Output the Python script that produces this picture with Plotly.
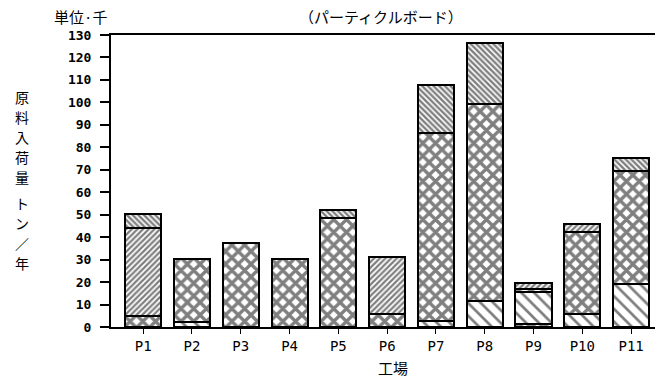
import plotly.graph_objects as go

categories = ["P1", "P2", "P3", "P4", "P5", "P6", "P7", "P8", "P9", "P10", "P11"]
base_p9 = [None, None, None, None, None, None, None, None, 1.3, None, None]
seg_a = [None, 2.4, None, None, None, None, 2.7, 11.7, 14.3, 5.6, 19.0]
seg_b = [4.9, 27.7, 37.3, 30.4, 48.4, 5.8, 83.5, 87.5, 1.3, 36.8, 50.6]
seg_c = [39.1, None, None, None, None, 25.4, None, None, 2.7, 3.5, None]
seg_d = [6.3, None, None, None, 3.7, None, 21.5, 27.1, None, None, 5.8]
y_ticks = list(range(0, 131, 10))
y_title_chars = ["原", "料", "入", "荷", "量", "ト", "ン", "／", "年"]

def bar(vals, shape, size, solidity):
    return go.Bar(
        x=categories, y=vals,
        marker=dict(color="white",
                    line=dict(color="black", width=2),
                    pattern=dict(shape=shape, size=size, solidity=solidity,
                                 fgcolor="black", bgcolor="white")),
        showlegend=False, hoverinfo="skip")

fig = go.Figure()
fig.add_trace(bar(base_p9, "x", 9, 0.6))
fig.add_trace(bar(seg_a, "\\", 9, 0.3))
fig.add_trace(bar(seg_b, "x", 9, 0.6))
fig.add_trace(bar(seg_c, "/", 4, 0.55))
fig.add_trace(bar(seg_d, "\\", 4, 0.6))

mono = "DejaVu Sans Mono"
jp = "Noto Sans CJK JP"

annotations = [
    dict(text="単位·千", x=80, y=16, size=15),
    dict(text="（パーティクルボード）", x=381, y=17, size=15),
    dict(text="工場", x=393, y=367, size=15),
]
title_y = [97, 117, 137, 157, 177, 203, 223, 243, 263]
for ch, yy in zip(y_title_chars, title_y):
    annotations.append(dict(text=ch, x=22, y=yy, size=14))

W, H = 655, 383
l, r, t, b = 111, 0, 35, 56
pw, ph = W - l - r, H - t - b
ann_objs = []
for a in annotations:
    ann_objs.append(dict(
        text=a["text"], showarrow=False, xref="paper", yref="paper",
        x=(a["x"] - l) / pw, y=(H - b - a["y"]) / ph,
        xanchor="center", yanchor="middle",
        font=dict(family=jp, size=a["size"], color="black")))

fig.update_layout(
    width=W, height=H,
    margin=dict(l=l, r=r, t=t, b=b),
    barmode="stack", bargap=0.26,
    plot_bgcolor="white", paper_bgcolor="white",
    xaxis=dict(range=[-0.66, 10.49], showline=True, linecolor="black", linewidth=2,
               mirror=True, ticks="outside", ticklen=5, tickcolor="black", tickwidth=1,
               showgrid=False, tickfont=dict(family=mono, size=14, color="black")),
    yaxis=dict(range=[0, 130], tickvals=y_ticks, showline=True, linecolor="black", linewidth=2,
               ticks="outside", ticklen=9, tickcolor="black", tickwidth=1.5,
               showgrid=False, zeroline=False, ticklabelstandoff=6,
               tickfont=dict(family=mono, size=13, color="black", weight="bold")),
    annotations=ann_objs,
)

fig.write_html("out.html")
